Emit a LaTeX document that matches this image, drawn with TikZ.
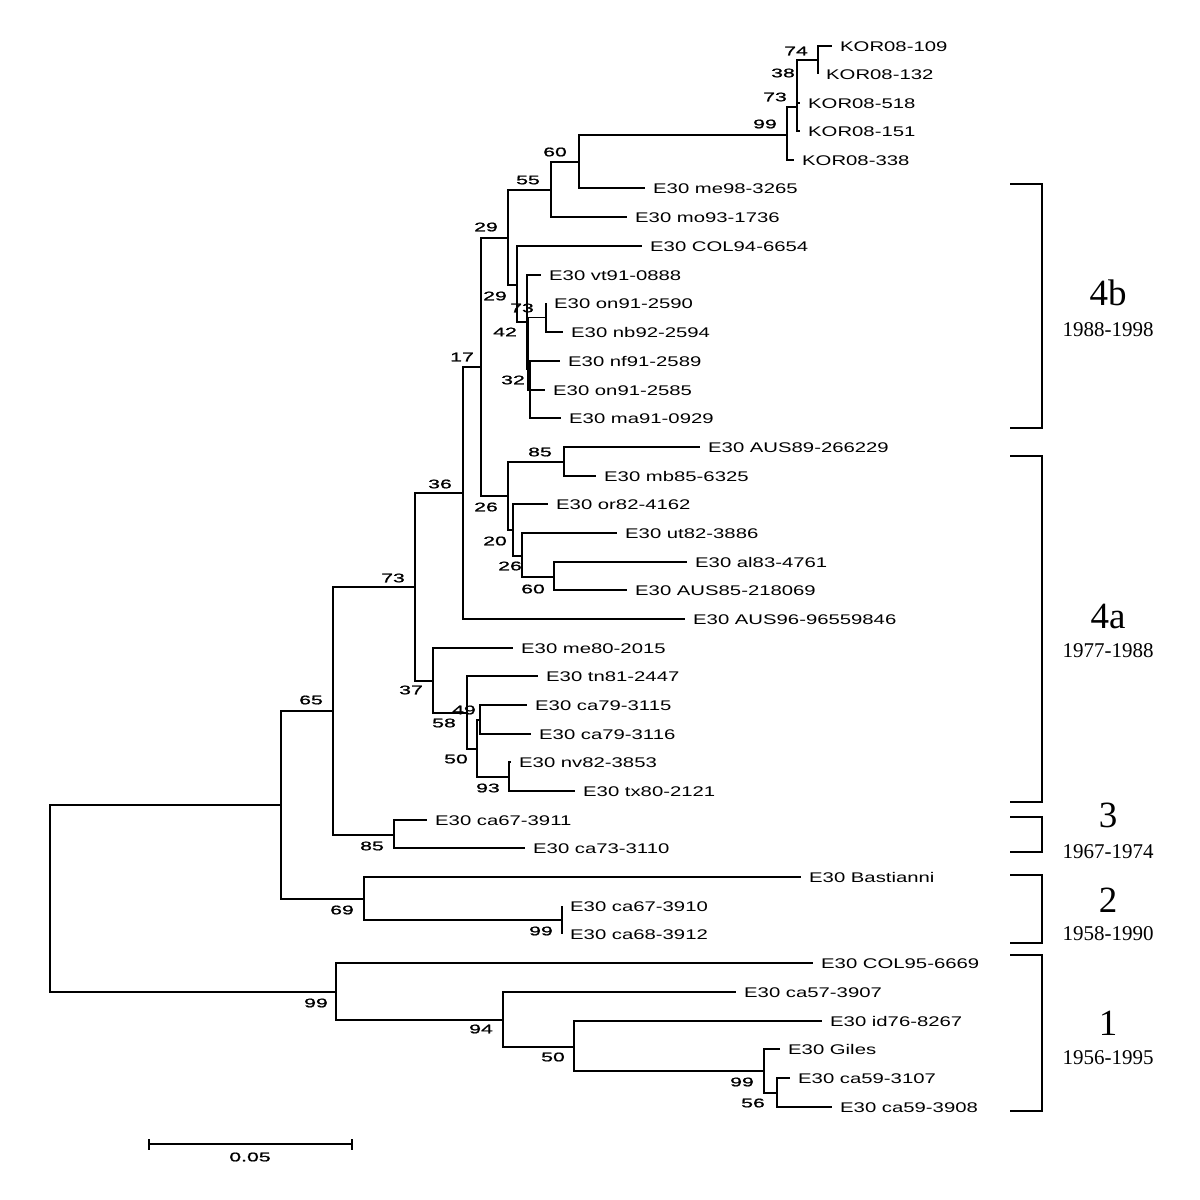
\documentclass[tikz,border=0pt]{standalone}
\usepackage{fontspec}
\setmainfont{Liberation Serif}
\newfontfamily\leaffont[FakeStretch=1.45]{Liberation Sans}
\newfontfamily\bsfont[FakeStretch=1.7,FakeBold=1.2]{Liberation Sans}
\begin{document}
\begin{tikzpicture}[x=1pt,y=-1pt,
  br/.style={line width=1.2pt, line join=miter, black},
  lf/.style={anchor=base west, inner sep=0pt, xshift=8pt, yshift=-5pt, font=\leaffont\fontsize{14}{16}\selectfont},
  bs/.style={inner sep=0pt, font=\bsfont\fontsize{12.5}{14}\selectfont},
  grp/.style={anchor=base, inner sep=0pt, font=\fontsize{37}{40}\selectfont},
  yrs/.style={anchor=base, inner sep=0pt, font=\fontsize{21}{24}\selectfont},
  brk/.style={line width=1.6pt, line join=miter}]
\useasboundingbox (0,0) rectangle (1200,1200);
\fill[white] (0,0) rectangle (1200,1200);

% ---------- leaves (line ends) ----------
\coordinate (L1) at (832,46);   \node[lf] (T1) at (L1) {KOR08-109};
\coordinate (L2) at (818,74);   \node[lf] (T2) at (L2) {KOR08-132};
\coordinate (L3) at (800,103);  \node[lf] (T3) at (L3) {KOR08-518};
\coordinate (L4) at (800,131);  \node[lf] (T4) at (L4) {KOR08-151};
\coordinate (L5) at (794,160);  \node[lf] (T5) at (L5) {KOR08-338};
\coordinate (L6) at (645,188);  \node[lf] (T6) at (L6) {E30 me98-3265};
\coordinate (L7) at (627,217);  \node[lf] (T7) at (L7) {E30 mo93-1736};
\coordinate (L8) at (642,246);  \node[lf] (T8) at (L8) {E30 COL94-6654};
\coordinate (L9) at (541,275);  \node[lf] (T9) at (L9) {E30 vt91-0888};
\coordinate (L10) at (546,303); \node[lf] (T10) at (L10) {E30 on91-2590};
\coordinate (L11) at (563,332); \node[lf] (T11) at (L11) {E30 nb92-2594};
\coordinate (L12) at (560,361); \node[lf] (T12) at (L12) {E30 nf91-2589};
\coordinate (L13) at (545,390); \node[lf] (T13) at (L13) {E30 on91-2585};
\coordinate (L14) at (561,418); \node[lf] (T14) at (L14) {E30 ma91-0929};
\coordinate (L15) at (700,447); \node[lf] (T15) at (L15) {E30 AUS89-266229};
\coordinate (L16) at (596,476); \node[lf] (T16) at (L16) {E30 mb85-6325};
\coordinate (L17) at (548,504); \node[lf] (T17) at (L17) {E30 or82-4162};
\coordinate (L18) at (617,533); \node[lf] (T18) at (L18) {E30 ut82-3886};
\coordinate (L19) at (687,562); \node[lf] (T19) at (L19) {E30 al83-4761};
\coordinate (L20) at (627,590); \node[lf] (T20) at (L20) {E30 AUS85-218069};
\coordinate (L21) at (685,619); \node[lf] (T21) at (L21) {E30 AUS96-96559846};
\coordinate (L22) at (513,648); \node[lf] (T22) at (L22) {E30 me80-2015};
\coordinate (L23) at (538,676); \node[lf] (T23) at (L23) {E30 tn81-2447};
\coordinate (L24) at (527,705); \node[lf] (T24) at (L24) {E30 ca79-3115};
\coordinate (L25) at (531,734); \node[lf] (T25) at (L25) {E30 ca79-3116};
\coordinate (L26) at (511,762); \node[lf] (T26) at (L26) {E30 nv82-3853};
\coordinate (L27) at (575,791); \node[lf] (T27) at (L27) {E30 tx80-2121};
\coordinate (L28) at (427,820); \node[lf] (T28) at (L28) {E30 ca67-3911};
\coordinate (L29) at (525,848); \node[lf] (T29) at (L29) {E30 ca73-3110};
\coordinate (L30) at (801,877); \node[lf] (T30) at (L30) {E30 Bastianni};
\coordinate (L31) at (562,906); \node[lf] (T31) at (L31) {E30 ca67-3910};
\coordinate (L32) at (562,934); \node[lf] (T32) at (L32) {E30 ca68-3912};
\coordinate (L33) at (813,963); \node[lf] (T33) at (L33) {E30 COL95-6669};
\coordinate (L34) at (736,992); \node[lf] (T34) at (L34) {E30 ca57-3907};
\coordinate (L35) at (822,1021); \node[lf] (T35) at (L35) {E30 id76-8267};
\coordinate (L36) at (780,1049); \node[lf] (T36) at (L36) {E30 Giles};
\coordinate (L37) at (790,1078); \node[lf] (T37) at (L37) {E30 ca59-3107};
\coordinate (L38) at (832,1107); \node[lf] (T38) at (L38) {E30 ca59-3908};

% ---------- internal nodes ----------
\coordinate (n74) at (818,60);
\coordinate (n38) at (797,82);
\coordinate (n73k) at (797,107);
\coordinate (n99k) at (787,135);
\coordinate (n60) at (579,162);
\coordinate (n55) at (551,190);
\coordinate (n29a) at (508,238);
\coordinate (n29b) at (517,285);
\coordinate (n42) at (527,322);
\coordinate (nW) at (528,369);
\coordinate (n73b) at (546,317.5);
\coordinate (n32) at (530,390);
\coordinate (n17) at (481,367);
\coordinate (n26) at (508,496);
\coordinate (n85a) at (564,462);
\coordinate (n20) at (513,530);
\coordinate (n26b) at (522,556);
\coordinate (n60b) at (554,577);
\coordinate (n36) at (463,493);
\coordinate (n73) at (415,587);
\coordinate (n37) at (433,681);
\coordinate (n58) at (467,713);
\coordinate (n50) at (477,749);
\coordinate (n49) at (480,720);
\coordinate (n93) at (509,777);
\coordinate (n65) at (333,711);
\coordinate (n85b) at (394,835);
\coordinate (nR1) at (281,805);
\coordinate (n69) at (364,899);
\coordinate (n99b) at (562,920);
\coordinate (root) at (50,898);
\coordinate (n99g1) at (336,992);
\coordinate (n94) at (503,1020);
\coordinate (n50g) at (574,1047);
\coordinate (n99g) at (764,1071);
\coordinate (n56) at (777,1093);

% ---------- branches ----------
\foreach \p/\c in {n74/L1, n74/L2, n38/n74, n38/L3, n73k/n38, n73k/L4,
  n99k/n73k, n99k/L5, n60/n99k, n60/L6, n55/n60, n55/L7, n29a/n55, n29a/n29b,
  n29b/L8, n29b/n42, n42/L9, n42/nW, nW/n73b, nW/n32, n73b/L10, n73b/L11,
  n32/L12, n32/L13, n32/L14, n17/n29a, n17/n26, n26/n85a, n26/n20,
  n85a/L15, n85a/L16, n20/L17, n20/n26b, n26b/L18, n26b/n60b, n60b/L19, n60b/L20,
  n36/n17, n36/L21, n73/n36, n73/n37, n37/L22, n37/n58, n58/L23, n58/n50,
  n50/n49, n50/n93, n49/L24, n49/L25, n93/L26, n93/L27, n65/n73, n65/n85b,
  n85b/L28, n85b/L29, nR1/n65, nR1/n69, n69/L30, n69/n99b, n99b/L31, n99b/L32,
  root/nR1, root/n99g1, n99g1/L33, n99g1/n94, n94/L34, n94/n50g, n50g/L35,
  n50g/n99g, n99g/L36, n99g/n56, n56/L37, n56/L38}
  \draw[br] (\p) |- (\c);

% ---------- bootstrap values ----------
\node[bs] (b74) at (796,51) {74};
\node[bs] (b38) at (783,73) {38};
\node[bs] (b73k) at (775,97) {73};
\node[bs] (b99k) at (765,124) {99};
\node[bs] (b60) at (555,152) {60};
\node[bs] (b55) at (528,180) {55};
\node[bs] (b29a) at (486,227) {29};
\node[bs] (b29b) at (495,296) {29};
\node[bs] (b73b) at (522,308) {73};
\node[bs] (b42) at (505,332) {42};
\node[bs] (b32) at (513,380) {32};
\node[bs] (b17) at (462,357) {17};
\node[bs] (b85a) at (540,452) {85};
\node[bs] (b36) at (440,484) {36};
\node[bs] (b26) at (486,507) {26};
\node[bs] (b20) at (495,541) {20};
\node[bs] (b26b) at (510,566) {26};
\node[bs] (b60b) at (533,589) {60};
\node[bs] (b73) at (393,578) {73};
\node[bs] (b65) at (311,700) {65};
\node[bs] (b37) at (411,690) {37};
\node[bs] (b58) at (444,723) {58};
\node[bs] (b49) at (464,710) {49};
\node[bs] (b50) at (456,759) {50};
\node[bs] (b93) at (488,788) {93};
\node[bs] (b85b) at (372,846) {85};
\node[bs] (b69) at (342,910) {69};
\node[bs] (b99b) at (541,931) {99};
\node[bs] (b99g1) at (316,1003) {99};
\node[bs] (b94) at (481,1029) {94};
\node[bs] (b50g) at (553,1057) {50};
\node[bs] (b99g) at (742,1082) {99};
\node[bs] (b56) at (753,1103) {56};

% ---------- group brackets ----------
\draw[brk] (1010,184) -- (1042,184) -- (1042,428) -- (1010,428);
\draw[brk] (1010,456) -- (1042,456) -- (1042,802) -- (1010,802);
\draw[brk] (1010,817) -- (1042,817) -- (1042,852) -- (1010,852);
\draw[brk] (1010,875) -- (1042,875) -- (1042,943) -- (1010,943);
\draw[brk] (1010,955) -- (1042,955) -- (1042,1111) -- (1010,1111);

\node[grp] (g4b) at (1108,305) {4b};
\node[yrs] (y4b) at (1108,336) {1988-1998};
\node[grp] (g4a) at (1108,628) {4a};
\node[yrs] (y4a) at (1108,657) {1977-1988};
\node[grp] (g3) at (1108,827) {3};
\node[yrs] (y3) at (1108,858) {1967-1974};
\node[grp] (g2) at (1108,912) {2};
\node[yrs] (y2) at (1108,940) {1958-1990};
\node[grp] (g1) at (1108,1035) {1};
\node[yrs] (y1) at (1108,1064) {1956-1995};

% ---------- scale bar ----------
\coordinate (sA) at (149,1144);
\coordinate (sB) at (352,1144);
\draw[br] (sA) -- (sB);
\draw[br] ([yshift=5pt]sA) -- ([yshift=-6pt]sA);
\draw[br] ([yshift=5pt]sB) -- ([yshift=-6pt]sB);
\node[bs] (sl) at (250,1157) {0.05};
\end{tikzpicture}
\end{document}
